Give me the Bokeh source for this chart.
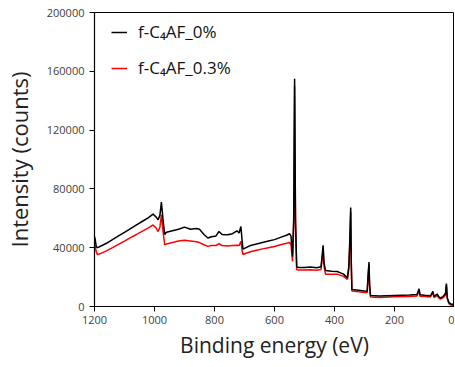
from bokeh.plotting import figure
from bokeh.models import Range1d, FixedTicker, NumeralTickFormatter, Legend, LegendItem
from bokeh.embed import file_html
from bokeh.resources import INLINE

energy = [1200, 1198, 1194, 1190, 1180, 1160, 1140, 1120, 1100, 1080, 1060, 1040, 1020, 1005, 995, 988, 982, 977, 972, 966,
          960, 940, 920, 900, 880, 860, 850, 835, 822, 810, 795, 785, 775, 756, 740, 725, 718, 712, 708, 705,
          695, 680, 660, 640, 620, 600, 580, 560, 550, 545, 540, 536, 533, 530, 526, 520, 500, 480, 460, 445,
          441, 438, 435, 430, 410, 391, 370, 357, 352, 349, 346, 344, 342, 320, 300, 291, 288, 285, 283, 280,
          250, 200, 150, 125, 118, 115, 100, 80, 72, 68, 58, 52, 47, 40, 36, 30, 27, 24, 19, 10, 5, 0]

counts_0 = [47500, 46000, 40500, 40000, 41000, 43000, 45500, 48000, 50500, 53000, 55500, 58000, 60500, 62800, 61000, 59000, 62000, 71000, 60000, 49000,
            50500, 51500, 52500, 54000, 52500, 53000, 52500, 49000, 46600, 47500, 48000, 51000, 49000, 48800, 49500, 51500, 50000, 54400, 45000, 39000,
            40000, 41500, 42500, 43500, 44500, 45500, 47000, 48500, 49500, 48000, 34000, 60000, 155000, 60000, 27000, 26500, 26500, 26800, 26300, 27000,
            35000, 41600, 30000, 24500, 24000, 23800, 22000, 19500, 28000, 45400, 67300, 30000, 11500, 11000, 10500, 10400, 21700, 30300, 15000, 7500,
            7200, 7500, 7800, 8100, 12000, 8000, 7600, 7300, 10300, 6800, 8500, 6500, 5800, 6500, 7200, 9000, 15600, 6000, 2900, 1500, 1500, 300]

counts_03 = [40900, 41500, 37000, 35300, 36000, 37800, 40000, 42300, 44500, 46800, 49000, 51300, 53500, 55500, 53500, 51000, 54000, 62400, 52000, 42000,
             42500, 43500, 44500, 45000, 44500, 44000, 43500, 42000, 40900, 41500, 41500, 42800, 41500, 41200, 41500, 41600, 41500, 44300, 38000, 35300,
             36200, 37200, 38300, 39200, 40000, 40800, 42000, 43000, 43600, 42000, 30700, 55000, 150000, 55000, 25000, 24800, 24800, 25000, 24700, 25200,
             32500, 38500, 27500, 22000, 22000, 22000, 20500, 18500, 26000, 43000, 64500, 28000, 10500, 10000, 9600, 9600, 20000, 28500, 14000, 6500,
             6200, 6600, 6800, 7200, 11000, 7000, 6800, 6500, 9500, 6000, 7500, 5800, 5000, 5700, 6300, 8000, 14500, 5200, 2000, 700, 600, 0]

x_ticks = [0, 200, 400, 600, 800, 1000, 1200]
y_ticks = [0, 40000, 80000, 120000, 160000, 200000]
labels = ["f-C\u2084AF_0%", "f-C\u2084AF_0.3%"]

FONT = "Open Sans"

p = figure(width=454, height=361, output_backend="svg", toolbar_location=None,
           x_range=Range1d(1200, 0), y_range=Range1d(0, 200000),
           min_border_left=93, min_border_right=0, min_border_top=12, min_border_bottom=54)

r_red = p.line(energy, counts_03, line_color="#ff0000", line_width=1.5)
r_blk = p.line(energy, counts_0, line_color="#000000", line_width=1.5)

p.xgrid.visible = False
p.ygrid.visible = False
p.outline_line_color = "black"
p.outline_line_width = 1

for ax in (p.xaxis[0], p.yaxis[0]):
    ax.axis_line_color = "black"
    ax.axis_line_width = 1.2
    ax.major_tick_line_color = "black"
    ax.major_tick_out = 5
    ax.major_tick_in = 0
    ax.minor_tick_line_color = None
    ax.major_label_text_font = FONT
    ax.major_label_text_font_size = "11px"
    ax.major_label_text_color = "#404040"
    ax.axis_label_text_font = FONT
    ax.axis_label_text_font_style = "normal"
    ax.axis_label_text_color = "#222222"

p.xaxis[0].ticker = FixedTicker(ticks=x_ticks)
p.yaxis[0].ticker = FixedTicker(ticks=y_ticks)
p.yaxis[0].formatter = NumeralTickFormatter(format="0")
p.xaxis[0].axis_label = "Binding energy (eV)"
p.yaxis[0].axis_label = "Intensity (counts)"
p.xaxis[0].axis_label_text_font_size = "21px"
p.yaxis[0].axis_label_text_font_size = "22px"
p.xaxis[0].major_label_standoff = 4
p.xaxis[0].axis_label_standoff = 4
p.yaxis[0].major_label_standoff = 5
p.yaxis[0].axis_label_standoff = 10

legend = Legend(items=[LegendItem(label=labels[0], renderers=[r_blk]),
                       LegendItem(label=labels[1], renderers=[r_red])],
                location=(17, 227), orientation="vertical")
legend.border_line_color = None
legend.background_fill_alpha = 0
legend.label_text_font = FONT
legend.label_text_font_size = "17px"
legend.label_text_color = "#111111"
legend.glyph_width = 16
legend.glyph_height = 20
legend.label_height = 20
legend.spacing = 13
legend.padding = 0
legend.margin = 0
legend.label_standoff = 11
p.add_layout(legend, "center")

open("out.html", "w").write(file_html(p, INLINE))
